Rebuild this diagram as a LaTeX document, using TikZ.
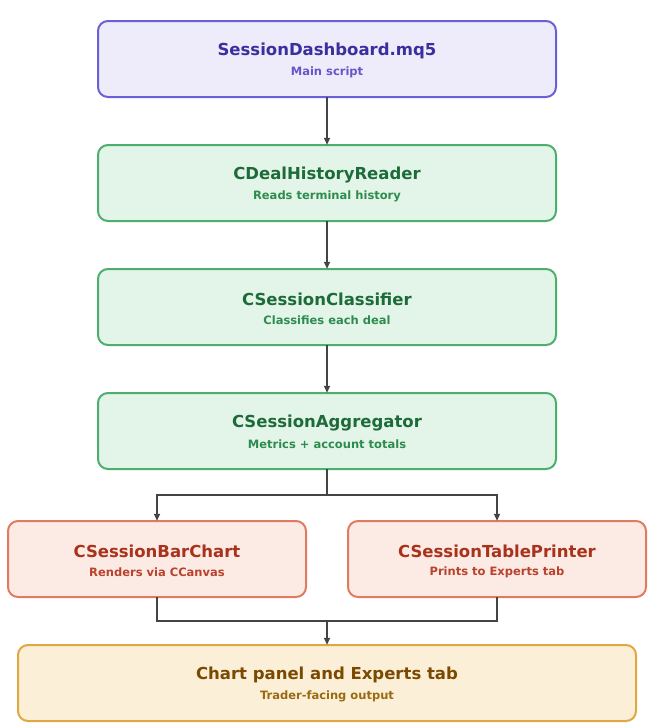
\documentclass[tikz,border=0pt]{standalone}
\usepackage{fontspec}
\setmainfont{DejaVu Sans}
\usetikzlibrary{arrows.meta}
\definecolor{pB}{HTML}{6A5FD8}\definecolor{pF}{HTML}{EEEBFB}\definecolor{pT}{HTML}{3B2F9E}\definecolor{pS}{HTML}{6A55C8}
\definecolor{gB}{HTML}{4CAF6E}\definecolor{gF}{HTML}{E3F5E8}\definecolor{gT}{HTML}{1E6B3A}\definecolor{gS}{HTML}{2E8B4E}
\definecolor{rB}{HTML}{E07A60}\definecolor{rF}{HTML}{FCEAE4}\definecolor{rT}{HTML}{A8321C}\definecolor{rS}{HTML}{B8422C}
\definecolor{oB}{HTML}{E0A840}\definecolor{oF}{HTML}{FCEFD8}\definecolor{oT}{HTML}{7A4A00}\definecolor{oS}{HTML}{9A6A10}
\definecolor{ln}{HTML}{444444}
\tikzset{
 boxst/.style={draw=#1B, fill=#1F, line width=2pt, rounded corners=10pt},
 ttl/.style={font=\fontsize{16.5}{18}\selectfont\bfseries, text=#1T, inner sep=0},
 sub/.style={font=\fontsize{11.5}{13}\selectfont\bfseries, text=#1S, inner sep=0},
 conn/.style={draw=ln, line width=2pt, -{Triangle[length=7pt,width=6pt]}},
 seg/.style={draw=ln, line width=2pt}
}
\newcommand{\mybox}[8]{% name, color, x1,y1,x2,y2, title, sub
 \path[boxst=#2] (#3,-#4) rectangle (#5,-#6);
 \node[inner sep=0, minimum width=#5pt-#3pt, minimum height=#6pt-#4pt] (#1) at ({(#3+#5)/2},{-(#4+#6)/2}) {};
 \node[ttl=#2] (#1t) at ({(#3+#5)/2},{-#4-30}) {#7};
 \node[sub=#2] (#1s) at ({(#3+#5)/2},{-#4-51}) {#8};
}
\begin{document}
\begin{tikzpicture}[x=1pt,y=1pt]
\useasboundingbox (0,0) rectangle (657,-728);
\mybox{main}{p}{98}{21}{556}{97}{SessionDashboard.mq5}{Main script}
\mybox{reader}{g}{98}{145}{556}{221}{CDealHistoryReader}{Reads terminal history}
\mybox{class}{g}{98}{269}{556}{345}{CSessionClassifier}{Classifies each deal}
\mybox{agg}{g}{98}{393}{556}{469}{CSessionAggregator}{Metrics + account totals}
\mybox{bar}{r}{8}{521}{306}{597}{CSessionBarChart}{Renders via CCanvas}
\mybox{tab}{r}{348}{521}{646}{597}{CSessionTablePrinter}{Prints to Experts tab}
\mybox{out}{o}{18}{645}{636}{721}{Chart panel and Experts tab}{Trader-facing output}
\coordinate (split) at (327,-495);
\coordinate (merge) at (327,-621);
\draw[conn] (main.south) -- (reader.north);
\draw[conn] (reader.south) -- (class.north);
\draw[conn] (class.south) -- (agg.north);
\draw[seg] (agg.south) -- (split);
\draw[conn] (split) -| (bar.north);
\draw[conn] (split) -| (tab.north);
\draw[seg] (bar.south) |- (merge);
\draw[seg] (tab.south) |- (merge);
\draw[conn] (merge) -- (out.north);
\end{tikzpicture}
\end{document}
